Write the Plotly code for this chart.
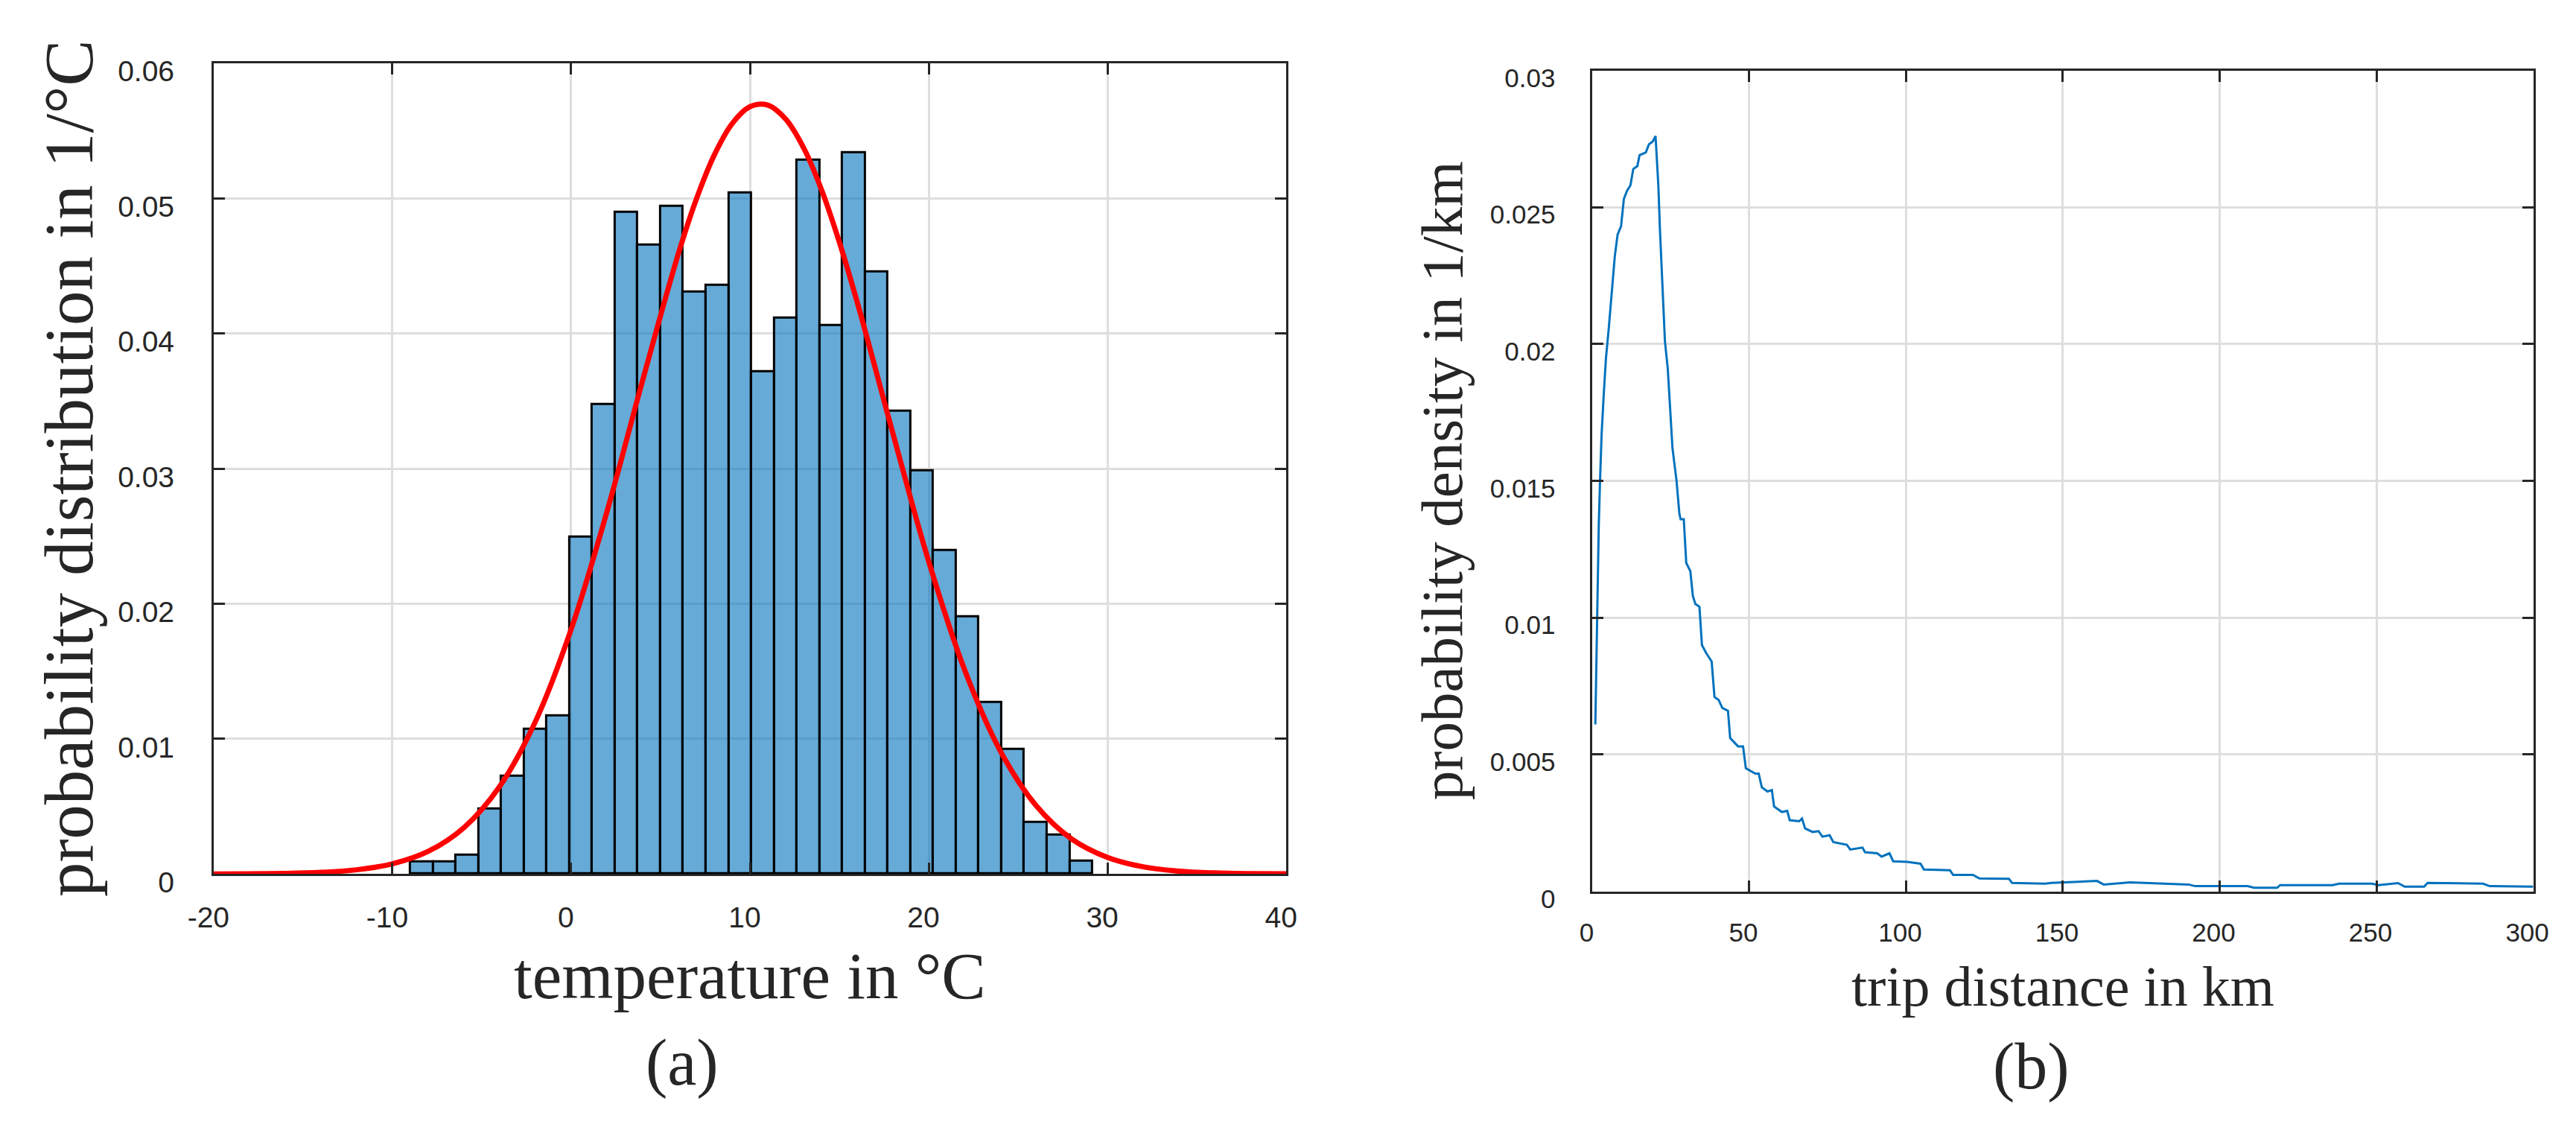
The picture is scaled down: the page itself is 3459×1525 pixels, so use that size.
import numpy as np
import plotly.graph_objs as go

# ---- (a) temperature histogram ----
bin_edges = np.linspace(-9.0, 29.16, 31)
temp_density = [0.00091, 0.00091, 0.00141, 0.00484, 0.00725, 0.01073, 0.01170,
                0.02493, 0.03473, 0.04895, 0.04654, 0.04943, 0.04306, 0.04359,
                0.05043, 0.03719, 0.04113, 0.05284, 0.04061, 0.05338, 0.04457,
                0.03425, 0.02985, 0.02396, 0.01904, 0.01270, 0.00925, 0.00382,
                0.00288, 0.00095]

# fitted normal curve
fit_temp = [-20, -18, -16, -14, -12, -10, -8, -6, -4, -2, 0, 2, 4, 6, 7, 8, 9,
            10, 11, 12, 13, 14, 15, 16, 18, 20, 22, 24, 26, 28, 30, 32, 34, 36,
            38, 40]
fit_pdf = [0.00000, 0.00001, 0.00004, 0.00012, 0.00031, 0.00075, 0.00167,
           0.00343, 0.00648, 0.01128, 0.01811, 0.02680, 0.03654, 0.04592,
           0.04993, 0.05319, 0.05552, 0.05678, 0.05690, 0.05586, 0.05374,
           0.05065, 0.04677, 0.04232, 0.03259, 0.02313, 0.01513, 0.00912,
           0.00507, 0.00259, 0.00123, 0.00053, 0.00021, 0.00008, 0.00003,
           0.00001]

# ---- (b) trip distance density ----
trip_km = [0.9, 1.4, 1.8, 2.0, 2.4, 2.9, 3.6, 4.3, 5.2, 6.2, 7.1, 8.0, 9.1, 10.0,
           11.0, 12.1, 13.0, 14.3, 15.0, 17.0, 18.0, 19.2, 20.1, 20.4, 21.0,
           21.5, 22.2, 23.1, 24.0, 24.6, 25.5, 26.8, 27.7, 28.1, 29.1, 29.9,
           31.2, 32.0, 32.8, 34.1, 34.9, 36.3, 38.0, 38.9, 40.2, 41.4, 43.2,
           43.9, 46.4, 48.0, 48.9, 51.9, 53.0, 54.0, 55.8, 57.2, 57.9, 60.4,
           62.1, 62.9, 65.9, 66.8, 67.8, 70.2, 72.1, 73.3, 75.6, 76.8, 81.1,
           82.2, 86.1, 86.9, 90.8, 92.2, 94.7, 95.9, 100.4, 104.6, 105.7, 114.0,
           115.0, 121.3, 123.4, 132.8, 133.8, 144.3, 146.3, 160.9, 163.0, 171.4,
           190.1, 192.2, 208.9, 211.0, 218.3, 219.3, 236.0, 238.1, 248.6, 250.6,
           256.9, 259.0, 265.2, 266.3, 284.0, 286.1, 300.0]
trip_density = [0.0061, 0.0100, 0.0118, 0.0134, 0.0150, 0.0167, 0.0182, 0.0195,
                0.0206, 0.0221, 0.0232, 0.0240, 0.0243, 0.0253, 0.0256, 0.0258,
                0.0264, 0.0265, 0.0269, 0.0270, 0.0273, 0.0274, 0.0276, 0.0270,
                0.0258, 0.0242, 0.0222, 0.0201, 0.0191, 0.0178, 0.0162, 0.0150,
                0.0138, 0.0136, 0.0136, 0.0120, 0.0117, 0.0108, 0.0105, 0.0104,
                0.0090, 0.0087, 0.0084, 0.0071, 0.0070, 0.0067, 0.0066, 0.0056,
                0.0053, 0.0053, 0.0045, 0.0043, 0.0043, 0.0038, 0.00365, 0.0037,
                0.0031, 0.0029, 0.00294, 0.0026, 0.00256, 0.00266, 0.0023,
                0.00217, 0.0022, 0.0020, 0.00205, 0.0018, 0.0017, 0.00153,
                0.0016, 0.00143, 0.00139, 0.00127, 0.00139, 0.0011, 0.00108,
                0.00101, 0.0008, 0.00077, 0.0006, 0.0006, 0.00047, 0.00046,
                0.00031, 0.00028, 0.00031, 0.00038, 0.00025, 0.00033, 0.00025,
                0.00019, 0.00019, 0.00013, 0.00013, 0.00023, 0.00023, 0.00028,
                0.00028, 0.00023, 0.0003, 0.00017, 0.00017, 0.00031, 0.00028,
                0.00019, 0.00017]

temp_ticks = [-20, -10, 0, 10, 20, 30, 40]
temp_dens_ticks = [0, 0.01, 0.02, 0.03, 0.04, 0.05, 0.06]
trip_ticks = [0, 50, 100, 150, 200, 250, 300]
trip_dens_ticks = [0, 0.005, 0.01, 0.015, 0.02, 0.025, 0.03]

W, H = 3459, 1525
ink = '#262626'
serif = 'Liberation Serif'
sans = 'Liberation Sans'


def px_x(p):
    return p / W


def px_y(p):
    return 1 - p / H


centers = (bin_edges[:-1] + bin_edges[1:]) / 2
widths = np.diff(bin_edges)

bars = go.Bar(x=centers, y=temp_density, width=widths,
              marker=dict(color='rgba(0,114,189,0.6)',
                          line=dict(color='black', width=3)),
              xaxis='x', yaxis='y', showlegend=False)

fit = go.Scatter(x=fit_temp, y=fit_pdf, mode='lines',
                 line=dict(color='#FF0000', width=7, shape='spline'),
                 xaxis='x', yaxis='y', showlegend=False)

trip = go.Scatter(x=trip_km, y=trip_density, mode='lines',
                  line=dict(color='#0072BD', width=3),
                  xaxis='x2', yaxis='y2', showlegend=False)


def axis(**kw):
    base = dict(showline=True, linecolor=ink, linewidth=3, mirror='ticks',
                ticks='inside', ticklen=15, tickwidth=3, tickcolor=ink,
                showgrid=True, gridcolor='#DEDEDE', gridwidth=2.5,
                zeroline=False, tickmode='array')
    base.update(kw)
    return base


layout = go.Layout(
    width=W, height=H,
    margin=dict(l=0, r=0, t=0, b=0),
    paper_bgcolor='white', plot_bgcolor='white',
    bargap=0,
    xaxis=axis(domain=[px_x(256), px_x(1720)], range=[-20, 40], anchor='y',
               tickvals=temp_ticks, ticktext=[str(t) for t in temp_ticks],
               tickfont=dict(family=sans, size=39, color=ink),
               ticklabelstandoff=22, ticklabelshift=-7),
    yaxis=axis(domain=[px_y(1197), px_y(77)], range=[0, 0.06], anchor='x',
               tickvals=temp_dens_ticks,
               ticktext=['0', '0.01', '0.02', '0.03', '0.04', '0.05', '0.06'],
               tickfont=dict(family=sans, size=39, color=ink),
               ticklabelstandoff=42, ticklabelshift=11),
    xaxis2=axis(domain=[px_x(2138), px_x(3422)], range=[0, 300], anchor='y2',
                tickvals=trip_ticks, ticktext=[str(t) for t in trip_ticks],
                tickfont=dict(family=sans, size=35, color=ink),
                ticklabelstandoff=22, ticklabelshift=-8),
    yaxis2=axis(domain=[px_y(1221), px_y(87)], range=[0, 0.03], anchor='x2',
                tickvals=trip_dens_ticks,
                ticktext=['0', '0.005', '0.01', '0.015', '0.02', '0.025', '0.03'],
                tickfont=dict(family=sans, size=35, color=ink),
                ticklabelstandoff=40, ticklabelshift=10),
)

labels = [
    ('temperature in °C', 988, 1338, 0, 89),
    ('probability distribution in 1/°C', 58, 637, -90, 93),
    ('(a)', 895, 1458, 0, 88),
    ('trip distance in km', 2780, 1352, 0, 76),
    ('probability density in 1/km', 1933, 654, -90, 79),
    ('(b)', 2737, 1463, 0, 88),
]
annotations = []
for text, x, y, ang, size in labels:
    annotations.append(dict(text=text, x=px_x(x), y=px_y(y), xref='paper',
                            yref='paper', xanchor='center', yanchor='middle',
                            textangle=ang, showarrow=False,
                            font=dict(family=serif, size=size, color=ink)))
layout.annotations = annotations

fig = go.Figure(data=[bars, fit, trip], layout=layout)
fig.write_html("out.html", config={'displayModeBar': False},
               post_script="document.body.style.margin='0px';")
